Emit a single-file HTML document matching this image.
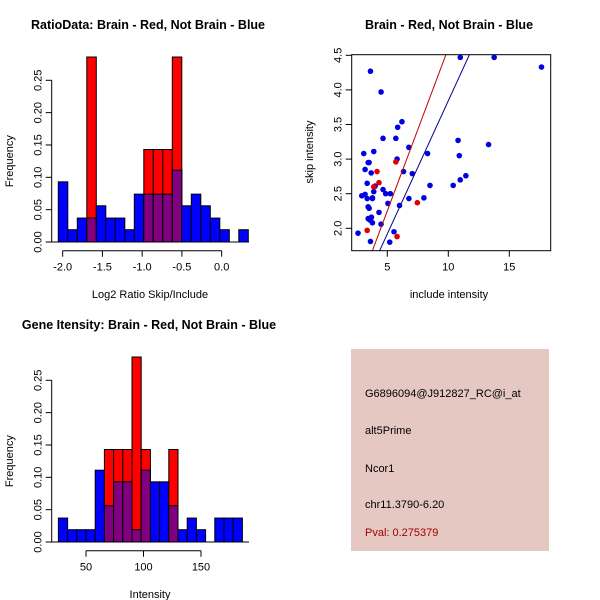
<!DOCTYPE html>
<html><head><meta charset="utf-8"><style>
html,body{margin:0;padding:0;background:#fff}
svg{display:block;font-family:"Liberation Sans",Helvetica,sans-serif}
</style></head><body>
<svg id="s" width="600" height="600" viewBox="0 0 600 600">
<rect x="0" y="0" width="600" height="600" fill="#fff"/>
<g id="p1"></g>
<g id="p2"></g>
<g id="p3"></g>
<g>
<rect x="351" y="349" width="198" height="202" fill="#e5c8c1"/>
<text x="365" y="397" font-size="11" fill="#000">G6896094@J912827_RC@i_at</text>
<text x="365" y="434" font-size="11" fill="#000">alt5Prime</text>
<text x="365" y="472" font-size="11" fill="#000">Ncor1</text>
<text x="365" y="508" font-size="11" fill="#000">chr11.3790-6.20</text>
<text x="365" y="536" font-size="11" fill="#a00000">Pval: 0.275379</text>
</g>
</svg>
<script>
// ---- data ----
const ratioBinStart = -2.055, ratioBinWidth = 0.1195;
const ratioBlue = [0.093,0.019,0.037,0.037,0.056,0.037,0.037,0.019,0.074,0.074,0.074,0.074,0.111,0.056,0.074,0.056,0.037,0.019,0,0.019];
const ratioRed  = [0,0,0,0.286,0,0,0,0,0,0.143,0.143,0.143,0.286,0,0,0,0,0,0,0];
const ratioXTicks = [-2.0,-1.5,-1.0,-0.5,0.0];
const ratioXLabels = ["-2.0","-1.5","-1.0","-0.5","0.0"];
const intBinStart = 26, intBinWidth = 8;
const intBlue = [0.037,0.019,0.019,0.019,0.111,0.056,0.093,0.093,0.019,0.111,0.093,0.093,0.056,0.019,0.037,0.019,0,0.037,0.037,0.037];
const intRed  = [0,0,0,0,0,0.143,0.143,0.143,0.286,0.143,0,0,0.143,0,0,0,0,0,0,0];
const intXTicks = [50,100,150];
const freqTicks = [0,0.05,0.10,0.15,0.20,0.25];
const freqLabels = ["0.00","0.05","0.10","0.15","0.20","0.25"];
const blueX = [2.6,3.07,3.18,3.35,3.43,3.51,2.91,3.18,3.35,3.43,3.51,3.43,3.57,3.62,3.7,3.78,3.62,3.62,3.68,3.78,3.89,3.89,4.0,3.78,4.32,4.49,4.49,4.65,4.65,4.87,5.05,5.25,5.55,5.2,5.7,5.8,5.85,6.2,6.0,6.33,6.77,6.77,7.05,8.0,8.3,8.5,10.4,10.8,10.9,10.98,11.44,13.3,10.98,13.76,17.64];
const blueY = [1.93,3.08,2.85,2.65,2.95,2.95,2.47,2.49,2.43,2.31,2.29,2.14,2.12,2.14,2.16,2.08,1.81,4.27,2.80,2.43,2.53,3.11,2.61,2.44,2.23,2.06,3.97,3.30,2.56,2.50,2.36,2.50,1.95,1.80,3.30,3.00,3.46,3.54,2.33,2.82,2.43,3.17,2.79,2.44,3.08,2.62,2.62,3.27,3.05,2.70,2.76,3.21,4.47,4.47,4.33];
const redX = [3.35,4.16,4.32,3.89,5.7,5.8,7.46];
const redY = [1.97,2.82,2.66,2.60,2.96,1.88,2.37];
const redFit = [-0.099,0.47];   // intercept, slope
const blueFit = [-0.007,0.385];
const scXTicks = [5,10,15];
const scYTicks = [2.0,2.5,3.0,3.5,4.0,4.5];
const scYLabels = ["2.0","2.5","3.0","3.5","4.0","4.5"];

const NS="http://www.w3.org/2000/svg";
function mk(parent,tag,attrs,txt){const e=document.createElementNS(NS,tag);for(const k in attrs)e.setAttribute(k,attrs[k]);if(txt!==undefined)e.textContent=txt;parent.appendChild(e);return e;}

function hist(g,o){
  const sx=v=>o.x0+(v-o.v0)*o.kx, sy=v=>o.y0-v*o.ky;
  const ti=mk(g,'text',{x:o.titleX,y:o.titleY,'font-size':12.5,'font-weight':'bold','text-anchor':'middle'},o.title);
  
  for(let i=0;i<o.blue.length;i++){
    const a=o.start+i*o.w,b=a+o.w;const x=sx(a),wd=sx(b)-sx(a);
    const bv=o.blue[i],rv=o.red[i],mn=Math.min(bv,rv);
    if(bv>0){const r=mk(g,'rect',{x:x,y:sy(bv),width:wd,height:sy(0)-sy(bv),fill:'#0000ff',stroke:'#000','stroke-width':1});
      }
    if(rv>0){const r=mk(g,'rect',{x:x,y:sy(rv),width:wd,height:sy(0)-sy(rv),fill:'#ff0000',stroke:'#000','stroke-width':1});
      }
    if(mn>0){const r=mk(g,'rect',{x:x,y:sy(mn),width:wd,height:sy(0)-sy(mn),fill:'#800080',stroke:'#000','stroke-width':1});
      }
  }
  mk(g,'line',{x1:o.bx1,x2:o.bx2,y1:sy(0),y2:sy(0),stroke:'#000'});
  const yax=o.yAxisX;
  mk(g,'line',{x1:yax,x2:yax,y1:sy(0),y2:sy(0.25),stroke:'#000'});
  freqTicks.forEach((t,i)=>{mk(g,'line',{x1:yax-6,x2:yax,y1:sy(t),y2:sy(t),stroke:'#000'});
    const tx=mk(g,'text',{x:yax-10,y:sy(t),'font-size':11,'text-anchor':'middle',transform:`rotate(-90 ${yax-10} ${sy(t)})`},freqLabels[i]);
    });
  const cy=(sy(0)+sy(0.25))/2;
  const yl=mk(g,'text',{x:13,y:cy,'font-size':11,'text-anchor':'middle',transform:`rotate(-90 13 ${cy})`},'Frequency');
  
  const xay=o.xAxisY;
  mk(g,'line',{x1:sx(o.ticks[0]),x2:sx(o.ticks[o.ticks.length-1]),y1:xay,y2:xay,stroke:'#000'});
  o.ticks.forEach((t,i)=>{mk(g,'line',{x1:sx(t),x2:sx(t),y1:xay,y2:xay+6,stroke:'#000'});
    const tx=mk(g,'text',{x:sx(t),y:xay+20,'font-size':11,'text-anchor':'middle'},o.labels[i]);
    });
  const xl=mk(g,'text',{x:o.xLabelX,y:o.xLabelY,'font-size':11,'text-anchor':'middle'},o.xlabel);
  
}

hist(document.getElementById('p1'),{v0:-2,x0:62.67,kx:79.5,y0:242,ky:646.8,start:ratioBinStart,w:ratioBinWidth,
  blue:ratioBlue,red:ratioRed,ticks:ratioXTicks,labels:ratioXLabels,bx1:51,bx2:249,yAxisX:51.7,xAxisY:250.7,
  title:'RatioData: Brain - Red, Not Brain - Blue',titleX:148,titleY:29,xlabel:'Log2 Ratio Skip/Include',xLabelX:150,xLabelY:298});
hist(document.getElementById('p3'),{v0:50,x0:86,kx:1.15,y0:542,ky:646.8,start:intBinStart,w:intBinWidth,
  blue:intBlue,red:intRed,ticks:intXTicks,labels:intXTicks.map(String),bx1:51,bx2:249,yAxisX:51.7,xAxisY:550.7,
  title:'Gene Itensity: Brain - Red, Not Brain - Blue',titleX:149,titleY:329,xlabel:'Intensity',xLabelX:150,xLabelY:598});

(function(){
  const g=document.getElementById('p2');
  const L=351.7,R=550.7,T=54.7,B=250.7;
  const sx=v=>387.3+(v-5)*12.2, sy=v=>55.3-(v-4.5)*69.2;
  const ti=mk(g,'text',{x:449,y:29,'font-size':12.5,'font-weight':'bold','text-anchor':'middle'},'Brain - Red, Not Brain - Blue');
  
  const clip=mk(g,'clipPath',{id:'sc'});mk(clip,'rect',{x:L,y:T,width:R-L,height:B-T});
  const pg=mk(g,'g',{'clip-path':'url(#sc)'});
  for(let i=0;i<blueX.length;i++){const c=mk(pg,'circle',{cx:sx(blueX[i]),cy:sy(blueY[i]),r:2.8,fill:'#0000e0'});
    }
  for(let i=0;i<redX.length;i++){const c=mk(pg,'circle',{cx:sx(redX[i]),cy:sy(redY[i]),r:2.8,fill:'#e00000'});
    }
  [[redFit,'#c00000','red-fit-line'],[blueFit,'#000090','blue-fit-line']].forEach(([f,col,n])=>{
    const x1=0,x2=20;const l=mk(pg,'line',{x1:sx(x1),y1:sy(f[0]+f[1]*x1),x2:sx(x2),y2:sy(f[0]+f[1]*x2),stroke:col,'stroke-width':1});
    });
  mk(g,'rect',{x:L,y:T,width:R-L,height:B-T,fill:'none',stroke:'#000'});
  scXTicks.forEach(t=>{mk(g,'line',{x1:sx(t),x2:sx(t),y1:B,y2:B+6,stroke:'#000'});
    const tx=mk(g,'text',{x:sx(t),y:B+20,'font-size':11,'text-anchor':'middle'},String(t));
    });
  scYTicks.forEach((t,i)=>{mk(g,'line',{x1:L-6,x2:L,y1:sy(t),y2:sy(t),stroke:'#000'});
    const tx=mk(g,'text',{x:L-10,y:sy(t),'font-size':11,'text-anchor':'middle',transform:`rotate(-90 ${L-10} ${sy(t)})`},scYLabels[i]);
    });
  const xl=mk(g,'text',{x:449,y:298,'font-size':11,'text-anchor':'middle'},'include intensity');
  
  const yl=mk(g,'text',{x:313,y:152,'font-size':11,'text-anchor':'middle',transform:'rotate(-90 313 152)'},'skip intensity');
  
})();
</script>
</body></html>
